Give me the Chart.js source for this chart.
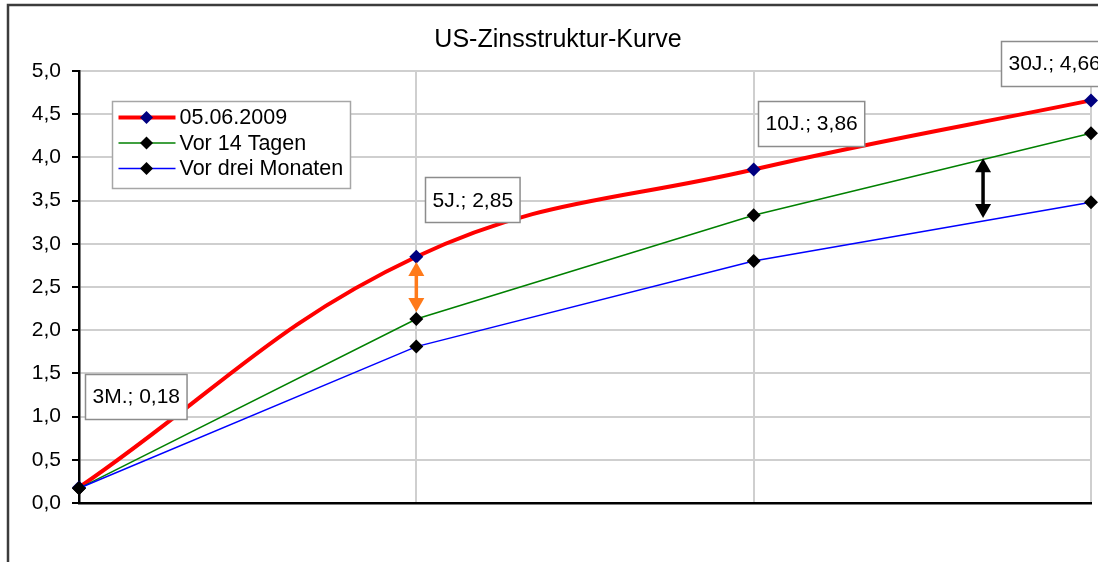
<!DOCTYPE html>
<html><head><meta charset="utf-8">
<script src="https://cdn.jsdelivr.net/npm/chart.js@4.4.0/dist/chart.umd.min.js"></script>
<style>html,body{margin:0;padding:0;background:#fff;overflow:hidden}#wrap{width:1098px;height:562px;position:relative}canvas{display:block}</style>
</head><body><div id="wrap"><canvas id="c" width="1098" height="562"></canvas></div>
<script>
// ---- data ----
const chartTitle = 'US-Zinsstruktur-Kurve';
const categories = ['3M', '5J', '10J', '30J'];
const seriesNames = ['05.06.2009', 'Vor 14 Tagen', 'Vor drei Monaten'];
const today = [0.18, 2.85, 3.86, 4.66];
const twoWeeksAgo = [0.17, 2.13, 3.33, 4.28];
const threeMonthsAgo = [0.17, 1.81, 2.80, 3.48];
const yMin = 0, yMax = 5, yStep = 0.5;

const FONT = '"Liberation Sans", Arial, sans-serif';
const fmt = v => v.toFixed(1).replace('.', ',');
const fmt2 = v => v.toFixed(2).replace('.', ',');

const decor = {
  id: 'decor',
  afterDatasetsDraw(chart, args, opts) {
    const ctx = chart.ctx;
    const x = chart.scales.x, y = chart.scales.y;
    ctx.save();
    // arrows
    opts.arrows.forEach(a => {
      const px = x.getPixelForValue(a.index);
      const y1 = y.getPixelForValue(a.from), y2 = y.getPixelForValue(a.to);
      ctx.strokeStyle = a.color; ctx.fillStyle = a.color; ctx.lineWidth = 3.5;
      const hh = 14, hw = 8;
      ctx.beginPath(); ctx.moveTo(px, y1 + hh - 2); ctx.lineTo(px, y2 - hh + 2); ctx.stroke();
      ctx.beginPath(); ctx.moveTo(px, y1); ctx.lineTo(px - hw, y1 + hh); ctx.lineTo(px + hw, y1 + hh); ctx.closePath(); ctx.fill();
      ctx.beginPath(); ctx.moveTo(px, y2); ctx.lineTo(px - hw, y2 - hh); ctx.lineTo(px + hw, y2 - hh); ctx.closePath(); ctx.fill();
    });
    // data labels for first series
    ctx.font = '21px ' + FONT;
    ctx.textBaseline = 'middle'; ctx.textAlign = 'left';
    const meta = chart.getDatasetMeta(0);
    meta.data.forEach((pt, i) => {
      const txt = categories[i] + '.; ' + fmt2(chart.data.datasets[0].data[i]);
      const w = ctx.measureText(txt).width + 14, h = 45;
      const off = opts.labelOffsets[i];
      const bx = Math.round(pt.x + off[0]) + 0.5, cy = pt.y + off[1];
      const by = Math.round(cy - h / 2) + 0.5;
      ctx.fillStyle = '#fff'; ctx.fillRect(bx, by, w, h);
      ctx.strokeStyle = '#8c8c8c'; ctx.lineWidth = 1.5; ctx.strokeRect(bx, by, w, h);
      ctx.fillStyle = '#000'; ctx.fillText(txt, bx + 7, cy + 1);
    });
    // legend
    const L = opts.legend;
    ctx.fillStyle = '#fff'; ctx.fillRect(L.x, L.y, L.w, L.h);
    ctx.strokeStyle = '#a6a6a6'; ctx.lineWidth = 1.5; ctx.strokeRect(L.x, L.y, L.w, L.h);
    chart.data.datasets.forEach((ds, i) => {
      const ry = L.y + L.firstRow + i * L.rowStep;
      ctx.strokeStyle = ds.borderColor; ctx.lineWidth = ds.borderWidth;
      ctx.beginPath(); ctx.moveTo(L.x + 6, ry); ctx.lineTo(L.x + 63, ry); ctx.stroke();
      const mx = L.x + 34, r = 6.5;
      ctx.fillStyle = ds.pointBackgroundColor;
      ctx.beginPath(); ctx.moveTo(mx, ry - r); ctx.lineTo(mx + r, ry); ctx.lineTo(mx, ry + r); ctx.lineTo(mx - r, ry); ctx.closePath(); ctx.fill();
      ctx.fillStyle = '#000'; ctx.font = '21.5px ' + FONT;
      ctx.fillText(ds.label, L.x + 67, ry + 1);
    });
    ctx.restore();
  },
  afterDraw(chart, args, opts) {
    const ctx = chart.ctx;
    ctx.save();
    ctx.fillStyle = '#000'; ctx.font = '25px ' + FONT;
    ctx.textAlign = 'center'; ctx.textBaseline = 'middle';
    ctx.fillText(chartTitle, 558, 40);
    ctx.strokeStyle = '#3c3c3c'; ctx.lineWidth = 2.5;
    ctx.strokeRect(8, 5, 1200, 700);
    ctx.restore();
  }
};

const mk = (label, data, color, width, markColor, order, tension) => ({
  label, data, borderColor: color, borderWidth: width, backgroundColor: color,
  pointStyle: 'rectRot', pointRadius: 7, pointHoverRadius: 7,
  pointBackgroundColor: markColor, pointBorderColor: markColor, pointBorderWidth: 0,
  tension, order, fill: false, clip: false
});

const chart = new Chart(document.getElementById('c'), {
  type: 'line',
  data: {
    labels: categories,
    datasets: [
      mk(seriesNames[0], today, '#ff0000', 4, '#000080', 3, 0.4),
      mk(seriesNames[1], twoWeeksAgo, '#008000', 1.5, '#000000', 2, 0),
      mk(seriesNames[2], threeMonthsAgo, '#0000ff', 1.5, '#000000', 1, 0)
    ]
  },
  options: {
    responsive: false, animation: false, devicePixelRatio: 1,
    layout: { padding: { left: 8, top: 71, right: 5, bottom: 59 } },
    plugins: {
      legend: { display: false }, title: { display: false }, tooltip: { enabled: false },
      decor: {
        labelOffsets: [[6, -91], [9, -57], [4, -46], [-90, -37]],
        arrows: [
          { index: 1, from: 2.79, to: 2.21, color: '#ff7a1a' },
          { index: 2.68, from: 3.99, to: 3.30, color: '#000000' }
        ],
        legend: { x: 112.5, y: 101.5, w: 238, h: 87, firstRow: 16, rowStep: 25.5 }
      }
    },
    scales: {
      x: {
        type: 'category', offset: false,
        grid: { color: '#cfcfcf', lineWidth: 2, drawTicks: false },
        border: { color: '#000', width: 2.5 },
        ticks: { display: false }
      },
      y: {
        min: yMin, max: yMax,
        ticks: { stepSize: yStep, callback: v => fmt(v), color: '#000', padding: 11,
                 font: { family: FONT, size: 21 } },
        grid: { color: '#cfcfcf', lineWidth: 2, tickColor: '#000', tickLength: 7, tickWidth: 2 },
        border: { color: '#000', width: 2.5 }
      }
    }
  },
  plugins: [decor]
});

// pin the plot area to the reference position
const target = { left: 79, top: 71, right: 1093, bottom: 503 };
for (let i = 0; i < 4; i++) {
  const a = chart.chartArea, p = chart.options.layout.padding;
  p.left += target.left - a.left;
  p.top += target.top - a.top;
  p.right += a.right - target.right;
  p.bottom += a.bottom - target.bottom;
  chart.update('none');
}
</script></body></html>
